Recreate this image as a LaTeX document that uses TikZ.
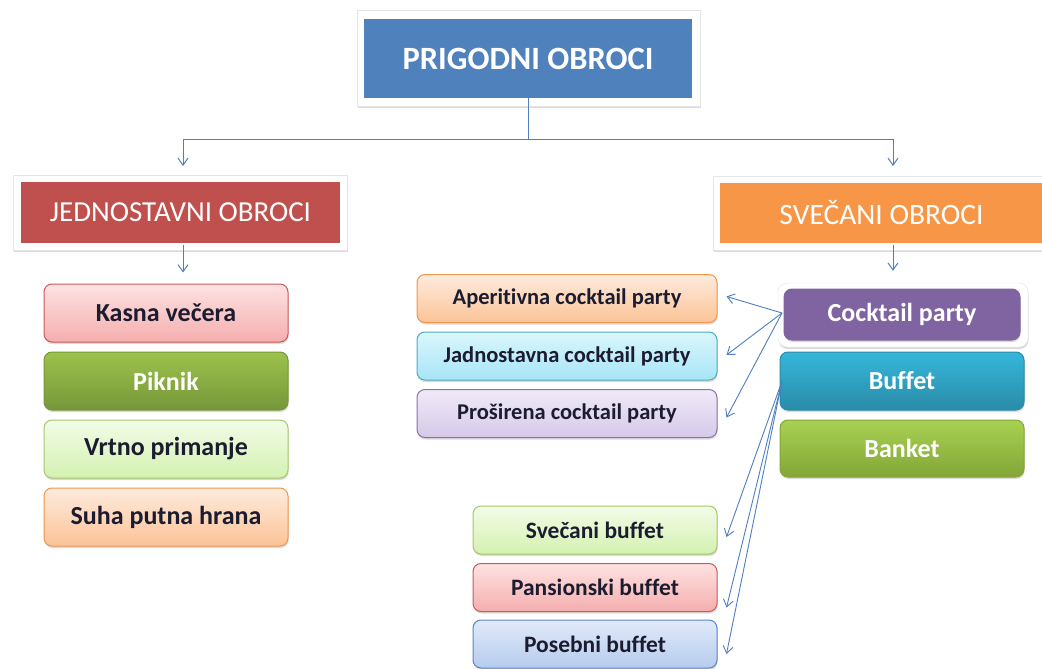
\documentclass[tikz,border=0pt]{standalone}
\usepackage{fontspec}
\setmainfont[Ligatures={NoCommon}]{Carlito}
\usetikzlibrary{arrows.meta,shadows}
\definecolor{cBlue}{HTML}{4F81BD}
\definecolor{cRed}{HTML}{C0504D}
\definecolor{cOrange}{HTML}{F79646}
\definecolor{cPurple}{HTML}{8064A2}
\definecolor{cLine}{HTML}{4F7FC0}
\definecolor{cText}{HTML}{1C1C30}
\definecolor{tealT}{HTML}{35B7DA}
\definecolor{tealB}{HTML}{2A8BA8}
\definecolor{bankT}{HTML}{A8D152}
\definecolor{bankB}{HTML}{83A637}
\definecolor{pikT}{HTML}{9DC24C}
\definecolor{pikB}{HTML}{769739}
\definecolor{pinkT}{HTML}{FEE2E2}
\definecolor{pinkB}{HTML}{F5AEAE}
\definecolor{pinkD}{HTML}{C95C5A}
\definecolor{lgT}{HTML}{F2FCE8}
\definecolor{lgB}{HTML}{D4F1B0}
\definecolor{lgD}{HTML}{A3C96A}
\definecolor{orT}{HTML}{FEEBDD}
\definecolor{orB}{HTML}{FBC397}
\definecolor{orD}{HTML}{F0964E}
\definecolor{cyT}{HTML}{DAF6FD}
\definecolor{cyB}{HTML}{A7E5F6}
\definecolor{cyD}{HTML}{4BACC6}
\definecolor{lvT}{HTML}{F0EAF8}
\definecolor{lvB}{HTML}{D5C9E8}
\definecolor{lvD}{HTML}{8D70AE}
\definecolor{lbT}{HTML}{E1EAF9}
\definecolor{lbB}{HTML}{B6CBEE}
\definecolor{lbD}{HTML}{5A86C6}
\begin{document}
\begin{tikzpicture}[x=1pt,y=-1pt,
  shad/.style={drop shadow={opacity=0.28,shadow xshift=0.6pt,shadow yshift=-2pt}},
  frame/.style={draw=black!10,fill=white,shad,inner sep=0pt},
  head/.style={inner sep=0pt,text=white},
  item/.style={rounded corners=8pt,line width=1pt,shad,inner sep=0pt,
     minimum width=244pt,minimum height=58pt,text=cText,
     font=\bfseries\fontsize{26}{29}\selectfont},
  subitem/.style={item,minimum height=48pt,font=\bfseries\fontsize{22.5}{25}\selectfont},
  grad/.style n args={3}{top color=#1,bottom color=#2,draw=#3},
  arr/.style={draw=cLine,line width=1pt,-{Straight Barb[length=7pt,width=10pt]}},
  thin/.style={draw=cLine,line width=0.9pt,-{Straight Barb[length=7pt,width=10pt]}}
]
\useasboundingbox (0,0) rectangle (1042,669);
\fill[white] (0,0) rectangle (1042,669);

% top
\node[frame,minimum width=343pt,minimum height=96pt] (topframe) at (528.5,58) {};
\node[head,fill=cBlue,minimum width=328pt,minimum height=79pt,
      font=\bfseries\fontsize{32.5}{36}\selectfont] (top) at (528,58.5) {PRIGODNI OBROCI};

% level 2
\node[frame,minimum width=334pt,minimum height=75pt] (jedframe) at (180,212.5) {};
\node[head,fill=cRed,minimum width=319pt,minimum height=61pt,
      font=\fontsize{29}{32}\selectfont] (jed) at (180.5,212.5) {JEDNOSTAVNI OBROCI};
\node[frame,minimum width=337pt,minimum height=74pt] (svframe) at (881.5,213) {};
\node[head,fill=cOrange,minimum width=323pt,minimum height=60pt,
      font=\fontsize{29.5}{32}\selectfont] (sv) at (881.5,212.5) {SVEČANI OBROCI};

\coordinate (jedIn) at (183,166);
\coordinate (svIn) at (893,166);
\draw[arr] (top.south) -- ++(0,41) -| (jedIn);
\draw[arr] (top.south) -- ++(0,41) -| (svIn);

% left list
\node[item,grad={pinkT}{pinkB}{pinkD}] (kasna) at (166,313) {Kasna večera};
\node[item,grad={pikT}{pikB}{pikB},text=white] (piknik) at (166,381) {Piknik};
\node[item,grad={lgT}{lgB}{lgD}] (vrtno) at (166,449) {Vrtno primanje};
\node[item,grad={orT}{orB}{orD}] (suha) at (166,517) {Suha putna hrana};

\draw[arr,shorten <=2pt,shorten >=11pt] (jed.south -| jedIn) -- (kasna.north -| jedIn);

% right list
\node[frame,rounded corners=9pt,minimum width=250pt,minimum height=64pt] (cockframe) at (903,315) {};
\node[item,fill=cPurple,draw=cPurple,shad/.style={},minimum width=236pt,minimum height=51pt,
      text=white] (cock) at (902,314.5) {Cocktail party};
\node[item,grad={tealT}{tealB}{tealB},text=white] (buffet) at (902,381) {Buffet};
\node[item,grad={bankT}{bankB}{bankB},text=white,minimum height=57pt] (banket) at (902,448.5) {Banket};

\draw[arr,shorten <=2pt,shorten >=12pt] (sv.south -| svIn) -- (cockframe.north -| svIn);

% cocktail subtypes
\node[subitem,minimum width=300pt,grad={orT}{orB}{orD}] (aper) at (567,298.5) {Aperitivna cocktail party};
\node[subitem,minimum width=300pt,grad={cyT}{cyB}{cyD}] (jadn) at (567,356) {Jadnostavna cocktail party};
\node[subitem,minimum width=300pt,grad={lvT}{lvB}{lvD}] (pros) at (567,413.5) {Proširena cocktail party};

\coordinate (cockOut) at (782,313);
\draw[thin] (cockOut) -- ([xshift=9pt,yshift=2pt]aper.east);
\draw[thin] (cockOut) -- ([xshift=9pt,yshift=1pt]jadn.east);
\draw[thin] (cockOut) -- ([xshift=9pt,yshift=-4pt]pros.east);

% buffet subtypes
\node[subitem,grad={lgT}{lgB}{lgD},font=\bfseries\fontsize{23.5}{26}\selectfont] (svb) at (595,530) {Svečani buffet};
\node[subitem,grad={pinkT}{pinkB}{pinkD},font=\bfseries\fontsize{23.5}{26}\selectfont] (pansb) at (595,587.5) {Pansionski buffet};
\node[subitem,grad={lbT}{lbB}{lbD},font=\bfseries\fontsize{23.5}{26}\selectfont] (posb) at (595,644) {Posebni buffet};

\coordinate (bufOut) at (782,381);
\draw[thin] (bufOut) -- ([xshift=9pt,yshift=-7pt]svb.east);
\draw[thin] (bufOut) -- ([xshift=9pt,yshift=-20pt]pansb.east);
\draw[thin] (bufOut) -- ([xshift=9pt,yshift=-10pt]posb.east);
\end{tikzpicture}
\end{document}
